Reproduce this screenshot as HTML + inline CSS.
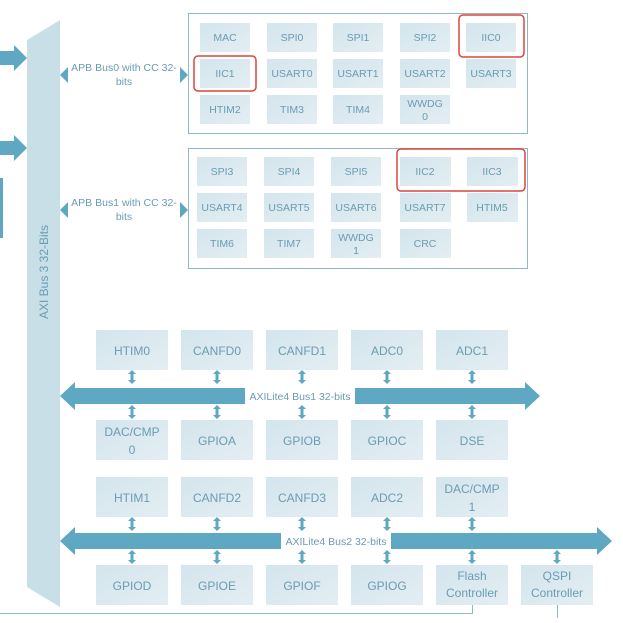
<!DOCTYPE html>
<html><head><meta charset="utf-8"><style>
html,body{margin:0;padding:0;background:#fff;}
svg text{font-family:"Liberation Sans",sans-serif;}
</style></head><body>
<svg width="623" height="618" viewBox="0 0 623 618" xmlns="http://www.w3.org/2000/svg">
<defs>
<linearGradient id="g" x1="0" y1="0" x2="1" y2="1">
<stop offset="0" stop-color="#d4e5ed"/><stop offset="1" stop-color="#e3eef3"/>
</linearGradient>
<g id="da"><polygon points="0,-7 4,-3 1.5,-3 1.5,3 4,3 0,7 -4,3 -1.5,3 -1.5,-3 -4,-3" fill="#5ea8c3"/></g>
</defs>
<polygon points="27,40 60,20 60,607 27,587" fill="#c9dfe8"/>
<text transform="translate(48,272) rotate(-90)" text-anchor="middle" font-size="12" fill="#6a9cb3">AXI Bus 3 32-Bits</text>
<polygon points="0,51 14,51 14,45 27,58 14,71 14,65 0,65" fill="#5ea8c3"/>
<polygon points="0,141 14,141 14,135 27,148 14,161 14,155 0,155" fill="#5ea8c3"/>
<rect x="0" y="178" width="3" height="60" fill="#5ea8c3"/>
<polygon points="60,75 68,67 68,83" fill="#5ea8c3"/>
<polygon points="188,75 180,67 180,83" fill="#5ea8c3"/>
<text x="124" y="71" text-anchor="middle" font-size="10.5" fill="#6a9cb3">APB Bus0 with CC 32-</text>
<text x="124" y="85" text-anchor="middle" font-size="10.5" fill="#6a9cb3">bits</text>
<polygon points="60,210 68,202 68,218" fill="#5ea8c3"/>
<polygon points="188,210 180,202 180,218" fill="#5ea8c3"/>
<text x="124" y="206" text-anchor="middle" font-size="10.5" fill="#6a9cb3">APB Bus1 with CC 32-</text>
<text x="124" y="220" text-anchor="middle" font-size="10.5" fill="#6a9cb3">bits</text>
<rect x="188.5" y="13.5" width="339" height="120" fill="none" stroke="#8fb8ca"/>
<rect x="188.5" y="148.5" width="339" height="120" fill="none" stroke="#8fb8ca"/>
<g font-size="10.5" fill="#6a9cb3" text-anchor="middle">
<g fill="url(#g)">
<rect x="200" y="23" width="50" height="29"/><rect x="267" y="23" width="50" height="29"/><rect x="333" y="23" width="50" height="29"/><rect x="400" y="23" width="50" height="29"/><rect x="466" y="23" width="50" height="29"/>
<rect x="200" y="59" width="50" height="29"/><rect x="267" y="59" width="50" height="29"/><rect x="333" y="59" width="50" height="29"/><rect x="400" y="59" width="50" height="29"/><rect x="466" y="59" width="50" height="29"/>
<rect x="200" y="95" width="50" height="29"/><rect x="267" y="95" width="50" height="29"/><rect x="333" y="95" width="50" height="29"/><rect x="400" y="95" width="50" height="29"/>
<rect x="197" y="157" width="50" height="29"/><rect x="264" y="157" width="50" height="29"/><rect x="331" y="157" width="50" height="29"/><rect x="400" y="157" width="51" height="29"/><rect x="467" y="157" width="51" height="29"/>
<rect x="197" y="193" width="50" height="29"/><rect x="264" y="193" width="50" height="29"/><rect x="331" y="193" width="50" height="29"/><rect x="400" y="193" width="51" height="29"/><rect x="467" y="193" width="51" height="29"/>
<rect x="197" y="229" width="50" height="29"/><rect x="264" y="229" width="50" height="29"/><rect x="331" y="229" width="50" height="29"/><rect x="400" y="229" width="51" height="29"/>
</g>
<text x="225" y="41">MAC</text><text x="292" y="41">SPI0</text><text x="358" y="41">SPI1</text><text x="425" y="41">SPI2</text><text x="491" y="41">IIC0</text>
<text x="225" y="77">IIC1</text><text x="292" y="77">USART0</text><text x="358" y="77">USART1</text><text x="425" y="77">USART2</text><text x="491" y="77">USART3</text>
<text x="225" y="113">HTIM2</text><text x="292" y="113">TIM3</text><text x="358" y="113">TIM4</text><text x="425" y="107">WWDG</text><text x="425" y="120">0</text>
<text x="222" y="175">SPI3</text><text x="289" y="175">SPI4</text><text x="356" y="175">SPI5</text><text x="425" y="175">IIC2</text><text x="492" y="175">IIC3</text>
<text x="222" y="211">USART4</text><text x="289" y="211">USART5</text><text x="356" y="211">USART6</text><text x="425" y="211">USART7</text><text x="492" y="211">HTIM5</text>
<text x="222" y="247">TIM6</text><text x="289" y="247">TIM7</text><text x="356" y="241">WWDG</text><text x="356" y="254">1</text><text x="425" y="247">CRC</text>
</g>
<g fill="none" stroke="#d9473f" stroke-width="1.5">
<rect x="459" y="15" width="65" height="42" rx="4"/>
<rect x="194" y="56" width="62" height="35" rx="4"/>
<rect x="397" y="149" width="128" height="42" rx="4"/>
</g>
<polygon points="60,396 75,382 75,388 525,388 525,382 540,396 525,410 525,404 75,404 75,410" fill="#5ea8c3"/>
<rect x="245" y="388" width="110" height="16" fill="#fff"/>
<text x="300" y="400" text-anchor="middle" font-size="10.5" fill="#6a9cb3">AXILite4 Bus1 32-bits</text>
<polygon points="60,541 75,527 75,533 597,533 597,527 612,541 597,555 597,549 75,549 75,555" fill="#5ea8c3"/>
<rect x="281" y="533" width="110" height="16" fill="#fff"/>
<text x="336" y="545" text-anchor="middle" font-size="10.5" fill="#6a9cb3">AXILite4 Bus2 32-bits</text>
<g fill="url(#g)">
<rect x="96" y="330" width="72" height="40"/><rect x="181" y="330" width="72" height="40"/><rect x="266" y="330" width="72" height="40"/><rect x="351" y="330" width="72" height="40"/><rect x="436" y="330" width="72" height="40"/>
<rect x="96" y="420" width="72" height="40"/><rect x="181" y="420" width="72" height="40"/><rect x="266" y="420" width="72" height="40"/><rect x="351" y="420" width="72" height="40"/><rect x="436" y="420" width="72" height="40"/>
<rect x="96" y="477" width="72" height="40"/><rect x="181" y="477" width="72" height="40"/><rect x="266" y="477" width="72" height="40"/><rect x="351" y="477" width="72" height="40"/><rect x="436" y="477" width="72" height="40"/>
<rect x="96" y="565" width="72" height="40"/><rect x="181" y="565" width="72" height="40"/><rect x="266" y="565" width="72" height="40"/><rect x="351" y="565" width="72" height="40"/><rect x="436" y="565" width="72" height="40"/><rect x="521" y="565" width="72" height="40"/>
</g>
<use href="#da" x="132" y="377"/><use href="#da" x="217" y="377"/><use href="#da" x="302" y="377"/><use href="#da" x="387" y="377"/><use href="#da" x="472" y="377"/>
<use href="#da" x="132" y="412"/><use href="#da" x="217" y="412"/><use href="#da" x="302" y="412"/><use href="#da" x="387" y="412"/><use href="#da" x="472" y="412"/>
<use href="#da" x="132" y="524"/><use href="#da" x="217" y="524"/><use href="#da" x="302" y="524"/><use href="#da" x="387" y="524"/><use href="#da" x="472" y="524"/>
<use href="#da" x="132" y="557"/><use href="#da" x="217" y="557"/><use href="#da" x="302" y="557"/><use href="#da" x="387" y="557"/><use href="#da" x="472" y="557"/><use href="#da" x="557" y="557"/>
<g font-size="12" fill="#6a9cb3" text-anchor="middle">
<text x="132" y="355">HTIM0</text><text x="217" y="355">CANFD0</text><text x="302" y="355">CANFD1</text><text x="387" y="355">ADC0</text><text x="472" y="355">ADC1</text>
<text x="132" y="436">DAC/CMP</text><text x="132" y="454">0</text><text x="217" y="445">GPIOA</text><text x="302" y="445">GPIOB</text><text x="387" y="445">GPIOC</text><text x="472" y="445">DSE</text>
<text x="132" y="502">HTIM1</text><text x="217" y="502">CANFD2</text><text x="302" y="502">CANFD3</text><text x="387" y="502">ADC2</text><text x="472" y="493">DAC/CMP</text><text x="472" y="511">1</text>
<text x="132" y="590">GPIOD</text><text x="217" y="590">GPIOE</text><text x="302" y="590">GPIOF</text><text x="387" y="590">GPIOG</text>
<text x="472" y="580">Flash</text><text x="472" y="597">Controller</text><text x="557" y="580">QSPI</text><text x="557" y="597">Controller</text>
</g>
<g stroke="#8fb8ca" stroke-width="1" fill="none">
<polyline points="0,613.5 472.5,613.5 472.5,605"/>
<line x1="557.5" y1="605" x2="557.5" y2="618"/>
</g>
</svg>
</body></html>
